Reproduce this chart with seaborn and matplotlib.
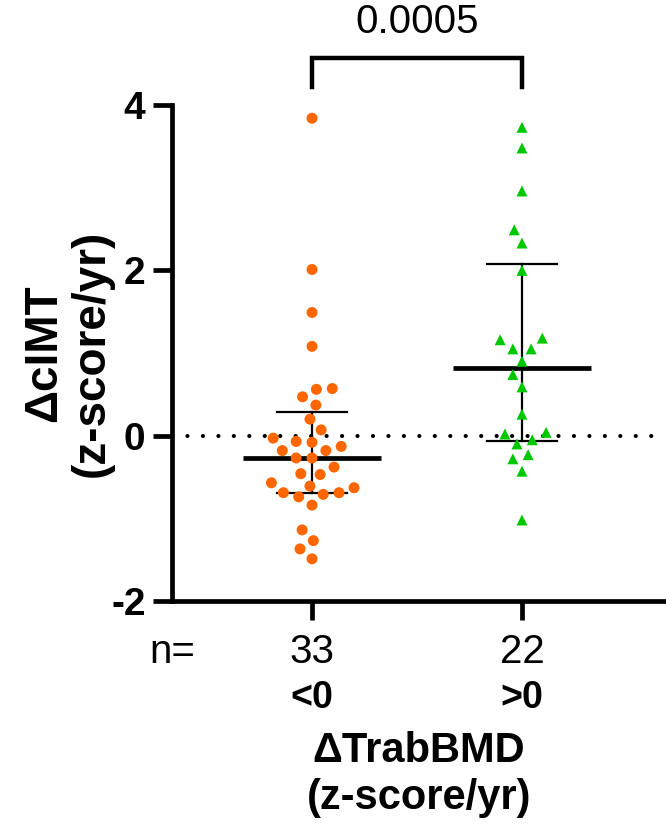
import numpy as np
import pandas as pd
import matplotlib
matplotlib.use("Agg")
import matplotlib.pyplot as plt
import matplotlib.transforms as mtransforms
import seaborn as sns

# groups (change in trabecular BMD) and their point styles
GROUPS = ["<0", ">0"]
N_LABELS = ["33", "22"]
COLORS = ["#FF6600", "#00C800"]
MARKERS = ["o", "^"]

# change in cIMT (z-score/yr)
NEG_TRAB = [3.84, 2.01, 1.49, 1.08, 0.57, 0.56, 0.47, 0.37, 0.20, 0.07, -0.03,
            -0.07, -0.08, -0.13, -0.18, -0.18, -0.27, -0.27, -0.38, -0.46, -0.47,
            -0.57, -0.61, -0.63, -0.69, -0.69, -0.71, -0.74, -0.84, -1.14, -1.27,
            -1.37, -1.49]
POS_TRAB = [3.73, 3.48, 2.96, 2.49, 2.33, 2.00, 1.18, 1.16, 1.05, 1.05, 0.90,
            0.74, 0.59, 0.26, 0.04, 0.02, -0.05, -0.10, -0.23, -0.28, -0.43, -1.02]

P_VALUE = "0.0005"
Y_TICKS = [-2, 0, 2, 4]

plt.rcParams["font.family"] = ["Liberation Sans", "DejaVu Sans"]

df = pd.DataFrame({
    "group": [GROUPS[0]] * len(NEG_TRAB) + [GROUPS[1]] * len(POS_TRAB),
    "value": NEG_TRAB + POS_TRAB,
})


def iqr(v):
    # quartiles the way GraphPad computes them
    return (np.percentile(v, 25, method="weibull"),
            np.percentile(v, 75, method="weibull"))


fig = plt.figure(figsize=(6.66, 8.27), dpi=100)
ax = fig.add_axes([172 / 666, 1 - 601 / 827, 494 / 666, 496 / 827])

ax.axhline(0, color="black", linewidth=3, linestyle=(0, (0.01, 3.7)),
           dash_capstyle="round", zorder=1)

# invisible edge only widens the swarm spacing, like GraphPad's scatter
for grp, color, marker in zip(GROUPS, COLORS, MARKERS):
    sns.swarmplot(data=df[df.group == grp], x="group", y="value", order=GROUPS,
                  color=color, marker=marker, size=7.9, linewidth=3,
                  edgecolor="none", ax=ax, zorder=3)

sns.pointplot(data=df, x="group", y="value", order=GROUPS,
              estimator="median", errorbar=iqr, capsize=0.33,
              color="black", linestyle="none", marker="_",
              markersize=100, markeredgewidth=3.4,
              err_kws={"linewidth": 1.6, "zorder": 2}, ax=ax, zorder=2)

ax.set_xlim(-0.667, 1.686)
ax.set_ylim(-2, 4)

for side in ["top", "right"]:
    ax.spines[side].set_visible(False)
for side in ["left", "bottom"]:
    ax.spines[side].set_linewidth(3.4)

ax.tick_params(axis="both", length=14, width=3.4, direction="out")
ax.set_xticks([0, 1])
ax.set_xticklabels(GROUPS, fontsize=27, fontweight="bold")
ax.tick_params(axis="x", pad=43)
ax.set_yticks(Y_TICKS)
ax.set_yticklabels([str(t) for t in Y_TICKS], fontsize=28, fontweight="bold")
ax.tick_params(axis="y", pad=5)

ax.set_ylabel("\u0394cIMT\n(z-score/yr)", fontsize=33, fontweight="bold",
              labelpad=-2, linespacing=1.12)
ax.set_xlabel("\u0394TrabBMD\n(z-score/yr)", fontsize=30, fontweight="bold",
              labelpad=11, linespacing=1.2)

# sample sizes under each group
trans = mtransforms.blended_transform_factory(ax.transData, ax.transAxes)
for i, n in enumerate(N_LABELS):
    ax.text(i, -0.103, n, transform=trans, ha="center", va="center",
            fontsize=29, clip_on=False)
ax.text(-0.557, -0.103, "n=", transform=trans, ha="right", va="center",
        fontsize=29, clip_on=False)

# significance bracket
ax.plot([0, 0, 1, 1], [4.22, 4.57, 4.57, 4.22], color="black", linewidth=3.2,
        solid_joinstyle="miter", clip_on=False)
ax.text(0.5, 5.0, P_VALUE, ha="center", va="center", fontsize=29, clip_on=False)

fig.savefig("out.png", dpi=100)
